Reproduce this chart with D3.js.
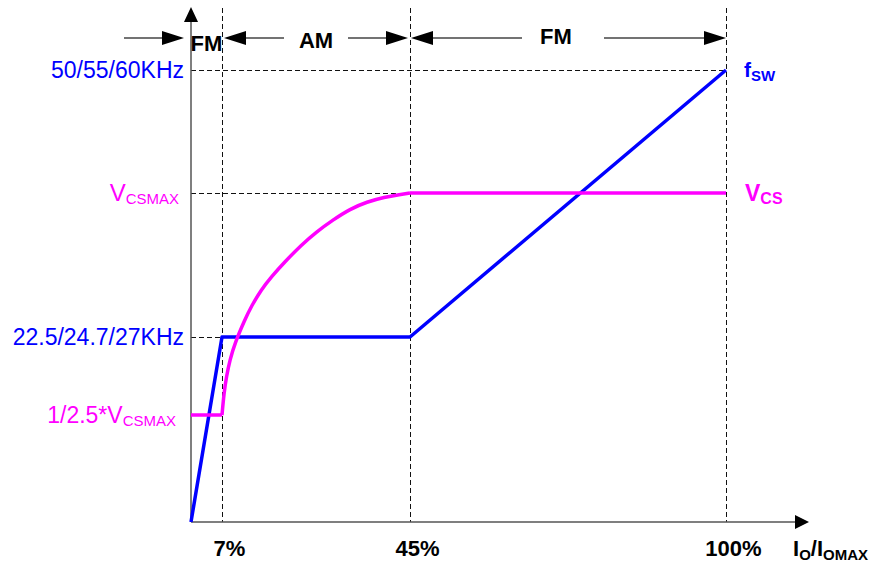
<!DOCTYPE html>
<html>
<head>
<meta charset="utf-8">
<script src="https://cdn.jsdelivr.net/npm/d3@7"></script>
<style>
body { margin: 0; background: #fff; }
text { font-family: "Liberation Sans", Arial, sans-serif; }
</style>
</head>
<body>
<div class="container"></div>
<script>
const width = 870;
const height = 562;

// load (% of Io max) where the modes change
const loadTicks = [0, 7, 45, 100];
const loadLabels = ['', '7%', '45%', '100%'];

// switching frequency (upper kHz value)
const fswLoad = [0, 7, 45, 100];
const fswKHz = [0, 27, 27, 60];

// current sense voltage, relative to VCSMAX
const vcsLoad = [0, 7, 7.4, 7.9, 8.6, 9.6, 11.6, 12.9, 14.9, 17, 19.7, 23, 26.1, 29.4, 32.9, 36.3, 39.8, 43, 45, 100];
const vcsLevel = [0.4, 0.4, 0.459, 0.504, 0.549, 0.594, 0.657, 0.693, 0.738, 0.774, 0.814, 0.859, 0.895, 0.927, 0.957, 0.976, 0.989, 0.996, 1, 1];

// y tick labels
const fswTicks = [27, 60];
const fswTickLabels = ['22.5/24.7/27KHz', '50/55/60KHz'];
const vcsTicks = [0.4, 1];
const vcsTickMain = ['1/2.5*V', 'V'];
const vcsTickSub = ['CSMAX', 'CSMAX'];

// operating modes
const modeNames = ['FM', 'AM', 'FM'];
const modeFrom = [0, 7, 45];
const modeTo = [7, 45, 100];

const blue = '#0000ff';
const magenta = '#ff00ff';

const svg = d3.select('.container')
    .append('svg')
    .attr('width', width)
    .attr('height', height);

// the drawing is not to scale, so both axes are piecewise
const x = d3.scaleLinear().domain(loadTicks).range([191, 222, 410, 726]);
const yF = d3.scaleLinear().domain([0, 27, 60]).range([522, 337, 70]);
const yV = d3.scaleLinear().domain([0, 0.4, 1]).range([522, 415, 193]);

const x0 = x(0), y0 = yF(0);

// dashed guides
const guides = svg.append('g')
    .attr('stroke', '#111')
    .attr('stroke-width', 1)
    .attr('stroke-dasharray', '5,3')
    .attr('shape-rendering', 'crispEdges');

guides.selectAll('line.v')
    .data(loadTicks.slice(1))
    .join('line')
    .attr('class', 'v')
    .attr('x1', d => x(d)).attr('x2', d => x(d))
    .attr('y1', 8).attr('y2', y0);

guides.append('line')
    .attr('x1', x0).attr('x2', x(100))
    .attr('y1', yF(60)).attr('y2', yF(60));
guides.append('line')
    .attr('x1', x0).attr('x2', x(45))
    .attr('y1', yV(1)).attr('y2', yV(1));
guides.append('line')
    .attr('x1', x0).attr('x2', x(7))
    .attr('y1', yF(27)).attr('y2', yF(27));

// axes with arrow heads
svg.append('line')
    .attr('x1', x0).attr('x2', x0)
    .attr('y1', y0).attr('y2', 20)
    .attr('stroke', '#555').attr('stroke-width', 1.5);
svg.append('path')
    .attr('d', `M${x0},7 L${x0 - 7},22 L${x0 + 7},22 Z`)
    .attr('fill', '#000');

svg.append('line')
    .attr('x1', x0).attr('x2', 796)
    .attr('y1', y0).attr('y2', y0)
    .attr('stroke', '#555').attr('stroke-width', 1.5);
svg.append('path')
    .attr('d', `M809,${y0} L795,${y0 - 7} L795,${y0 + 7} Z`)
    .attr('fill', '#000');

// x tick labels
const xAxis = svg.append('g')
    .attr('transform', `translate(0,${y0})`)
    .call(d3.axisBottom(x)
        .tickValues(loadTicks.slice(1))
        .tickSize(0)
        .tickPadding(18)
        .tickFormat((d, i) => loadLabels[i + 1]));
xAxis.select('.domain').remove();
xAxis.selectAll('text')
    .attr('dx', 7)
    .attr('fill', '#000')
    .style('font-family', '"Liberation Sans", Arial, sans-serif')
    .style('font-size', '22px')
    .style('font-weight', 'bold');

const xTitle = svg.append('text')
    .attr('x', 793).attr('y', 556)
    .attr('font-size', 22).attr('font-weight', 'bold');
xTitle.append('tspan').text('I');
xTitle.append('tspan').attr('font-size', 15).attr('dy', 4).text('O');
xTitle.append('tspan').attr('dy', -4).text('/I');
xTitle.append('tspan').attr('font-size', 15).attr('dy', 4).text('OMAX');

// y tick labels
svg.selectAll('text.fsw-tick')
    .data(fswTicks)
    .join('text')
    .attr('class', 'fsw-tick')
    .attr('x', 184)
    .attr('y', d => yF(d) + 7.5)
    .attr('text-anchor', 'end')
    .attr('font-size', 23)
    .attr('fill', blue)
    .text((d, i) => fswTickLabels[i]);

svg.selectAll('text.vcs-tick')
    .data(vcsTicks)
    .join('text')
    .attr('class', 'vcs-tick')
    .attr('x', (d, i) => i === 0 ? 176 : 179)
    .attr('y', d => yV(d) + 8)
    .attr('text-anchor', 'end')
    .attr('font-size', 23)
    .attr('fill', magenta)
    .each(function (d, i) {
        const t = d3.select(this);
        t.append('tspan').attr('font-size', i === 0 ? 23 : 24).text(vcsTickMain[i]);
        t.append('tspan').attr('font-size', 15).attr('dy', 2.5).text(vcsTickSub[i]);
    });

// fsw line
const fswLine = d3.line()
    .x((d, i) => x(fswLoad[i]))
    .y(d => yF(d));

svg.append('path')
    .datum(fswKHz)
    .attr('d', fswLine)
    .attr('fill', 'none')
    .attr('stroke', blue)
    .attr('stroke-width', 3.5)
    .attr('stroke-linejoin', 'round');

// vcs: flat, smooth rise, flat
const vcsPts = vcsLoad.map((d, i) => [x(d), yV(vcsLevel[i])]);
const last = vcsPts.length - 1;
const straight = d3.line();
const smooth = d3.line().curve(d3.curveBasis);

svg.append('path')
    .attr('d', straight(vcsPts.slice(0, 2)) + smooth(vcsPts.slice(1, last)) + straight(vcsPts.slice(last - 1)))
    .attr('fill', 'none')
    .attr('stroke', magenta)
    .attr('stroke-width', 3.5)
    .attr('stroke-linejoin', 'round');

// series labels
const fswLabel = svg.append('text')
    .attr('x', x(100) + 18).attr('y', yF(60) + 7)
    .attr('font-weight', 'bold').attr('font-size', 21).attr('fill', blue);
fswLabel.append('tspan').text('f');
fswLabel.append('tspan').attr('font-size', 15).attr('dy', 4).text('SW');

const vcsLabel = svg.append('text')
    .attr('x', x(100) + 19).attr('y', yV(1) + 8)
    .attr('font-weight', 'bold').attr('font-size', 23).attr('fill', magenta);
vcsLabel.append('tspan').text('V');
vcsLabel.append('tspan').attr('font-size', 16).attr('dy', 3).text('CS');

// mode annotations
const arrowY = 38;
const ann = svg.append('g');

function arrow(tail, tip) {
    const dir = tip > tail ? 1 : -1;
    const base = tip - dir * 22;
    ann.append('line')
        .attr('x1', tail).attr('x2', base)
        .attr('y1', arrowY).attr('y2', arrowY)
        .attr('stroke', '#444').attr('stroke-width', 1.5);
    ann.append('path')
        .attr('d', `M${tip},${arrowY} L${base},${arrowY - 7} L${base},${arrowY + 7} Z`)
        .attr('fill', '#000');
}

arrow(x(0) - 67, x(0) - 7);
arrow(x(7) + 62, x(7) + 2);
arrow(x(45) - 62, x(45) - 2);
arrow(x(45) + 112, x(45) + 1);
arrow(x(100) - 122, x(100));

const modeShift = [0, 0, -12];
const modeBase = [51, 48, 44];
ann.selectAll('text')
    .data(modeNames)
    .join('text')
    .attr('x', (d, i) => (x(modeFrom[i]) + x(modeTo[i])) / 2 + modeShift[i])
    .attr('y', (d, i) => modeBase[i])
    .attr('text-anchor', 'middle')
    .attr('font-size', 22)
    .attr('font-weight', 'bold')
    .text(d => d);
</script>
</body>
</html>
